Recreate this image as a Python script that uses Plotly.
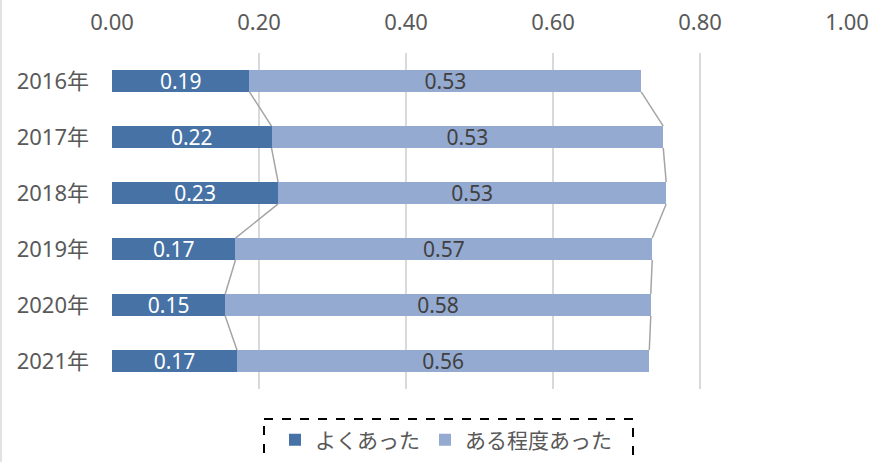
import plotly.graph_objects as go

categories = ["2016年", "2017年", "2018年", "2019年", "2020年", "2021年"]
often = [0.187, 0.217, 0.226, 0.168, 0.154, 0.170]
somewhat = [0.533, 0.533, 0.528, 0.567, 0.579, 0.561]
series_names = ["よくあった", "ある程度あった"]
x_ticks = [0.0, 0.2, 0.4, 0.6, 0.8, 1.0]

DARK = "#4672A6"
LIGHT = "#95AAD0"
BAR_W = 0.39
FONT = "'Noto Sans', 'Noto Sans CJK JP', sans-serif"
TXT = "#595959"

ypos = list(range(len(categories)))
totals = [a + b for a, b in zip(often, somewhat)]

fig = go.Figure()
fig.add_trace(go.Bar(
    y=ypos, x=often, orientation="h", name=series_names[0],
    marker=dict(color=DARK, line=dict(width=0)),
    width=BAR_W,
    text=[f"{v:.2f}" for v in often], textposition="inside",
    insidetextanchor="middle", constraintext="none",
    textfont=dict(color="white", size=21, family=FONT),
))
fig.add_trace(go.Bar(
    y=ypos, x=somewhat, orientation="h", name=series_names[1],
    marker=dict(color=LIGHT, line=dict(width=0)),
    width=BAR_W,
    text=[f"{v:.2f}" for v in somewhat], textposition="inside",
    insidetextanchor="middle", constraintext="none",
    textfont=dict(color="#404040", size=21, family=FONT),
))

# series lines
for cum in (often, totals):
    for i in range(len(categories) - 1):
        fig.add_trace(go.Scatter(
            x=[cum[i], cum[i + 1]],
            y=[ypos[i] + BAR_W / 2, ypos[i + 1] - BAR_W / 2],
            mode="lines", line=dict(color="#A5A5A5", width=1.5),
            showlegend=False, hoverinfo="skip",
        ))

W, H = 873, 462
L, R, T, B = 112, 26, 53, 73
pw, ph = W - L - R, H - T - B

fig.update_layout(
    width=W, height=H,
    margin=dict(l=L, r=R, t=T, b=B, autoexpand=False),
    barmode="stack",
    plot_bgcolor="white", paper_bgcolor="white",
    font=dict(family=FONT, size=22, color=TXT),
    xaxis=dict(
        side="top", range=[0, 1], tickvals=x_ticks,
        ticktext=[f"{v:.2f}" for v in x_ticks],
        showgrid=True, gridcolor="#D9D9D9", gridwidth=1.5,
        zeroline=False, showline=False, ticks="",
        ticklabelstandoff=18, automargin=False,
        tickfont=dict(size=22),
    ),
    yaxis=dict(
        range=[len(categories) - 0.5, -0.5],
        tickvals=ypos, ticktext=categories,
        showgrid=False, zeroline=False, showline=False,
        ticks="", ticklabelstandoff=22, automargin=False,
        tickfont=dict(size=22),
    ),
    legend=dict(
        orientation="h", x=(446 - L) / pw, xanchor="center",
        y=-(440 - (T + ph)) / ph, yanchor="middle",
        font=dict(size=21, color=TXT, family=FONT),
        bgcolor="rgba(0,0,0,0)", traceorder="normal",
    ),
    shapes=[
        dict(type="rect", xref="paper", yref="paper",
             x0=(264 - L) / pw, x1=(633 - L) / pw,
             y0=-(419 - (T + ph)) / ph, y1=-(490 - (T + ph)) / ph,
             line=dict(color="black", width=2, dash="dash"),
             fillcolor="rgba(0,0,0,0)", layer="above"),
        dict(type="line", xref="paper", yref="paper",
             x0=-(L - 1) / pw, x1=-(L - 1) / pw,
             y0=1 + T / ph, y1=-B / ph,
             line=dict(color="#D9D9D9", width=1.5)),
    ],
)
fig.write_html(
    "out.html",
    config={"displayModeBar": False},
    post_script="document.body.style.margin='0';document.body.style.overflow='hidden';",
)
